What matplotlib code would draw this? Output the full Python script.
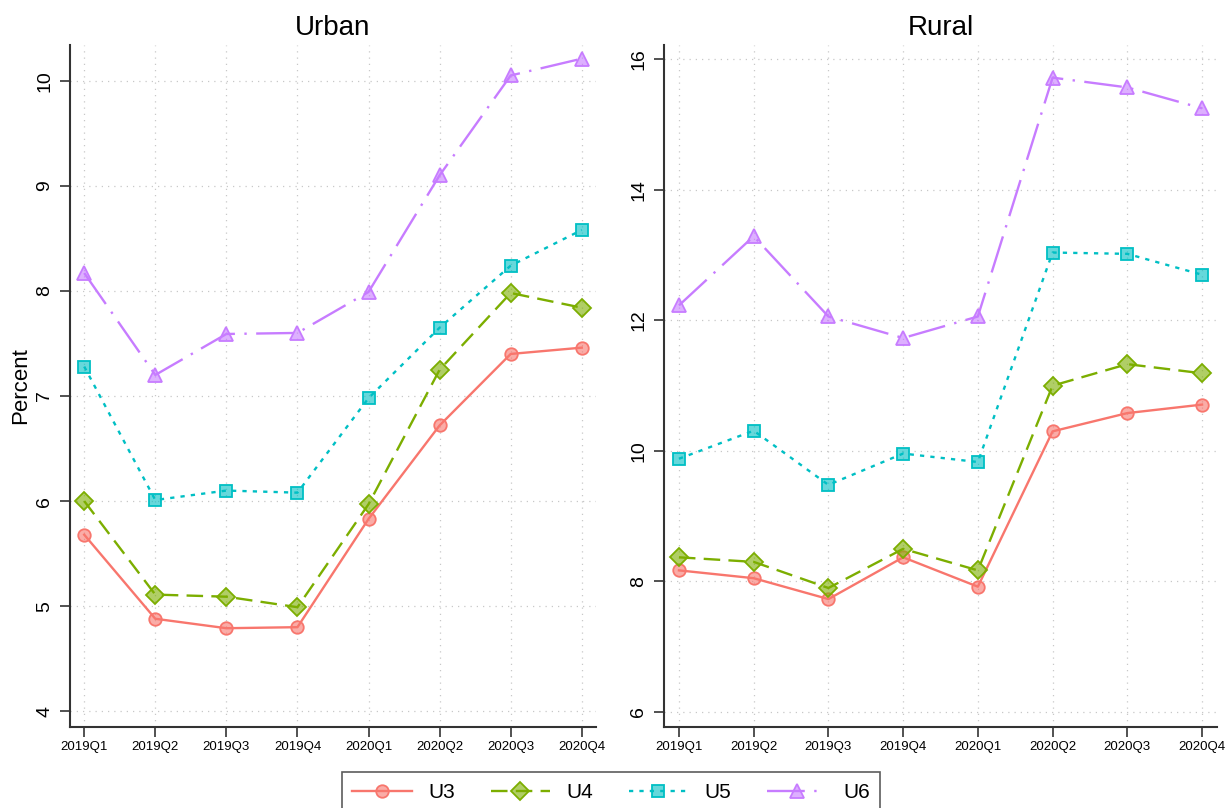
import matplotlib
matplotlib.use("Agg")
import matplotlib.pyplot as plt
from matplotlib.lines import Line2D

plt.rcParams['font.family'] = ['Liberation Sans', 'DejaVu Sans']

quarters = ["2019Q1", "2019Q2", "2019Q3", "2019Q4", "2020Q1", "2020Q2", "2020Q3", "2020Q4"]
series = ["U3", "U4", "U5", "U6"]

urban_u3 = [5.68, 4.88, 4.79, 4.80, 5.83, 6.72, 7.40, 7.46]
urban_u4 = [6.00, 5.11, 5.09, 4.99, 5.97, 7.25, 7.98, 7.84]
urban_u5 = [7.28, 6.01, 6.10, 6.08, 6.98, 7.65, 8.24, 8.58]
urban_u6 = [8.17, 7.20, 7.59, 7.60, 7.99, 9.10, 10.05, 10.21]

rural_u3 = [8.17, 8.05, 7.73, 8.37, 7.92, 10.30, 10.58, 10.71]
rural_u4 = [8.37, 8.30, 7.90, 8.50, 8.17, 11.00, 11.33, 11.19]
rural_u5 = [9.88, 10.31, 9.48, 9.96, 9.83, 13.04, 13.02, 12.70]
rural_u6 = [12.23, 13.29, 12.06, 11.73, 12.06, 15.72, 15.57, 15.25]

urban_ticks = [4, 5, 6, 7, 8, 9, 10]
rural_ticks = [6, 8, 10, 12, 14, 16]

colors = ["#F8766D", "#7CAE00", "#00BFC4", "#C77CFF"]
markers = ["o", "D", "s", "^"]
msizes = [9, 9, 8.5, 10]
dashes = [None, (7, 3.5), (1.8, 2.6), (16, 4, 1, 4)]

fig = plt.figure(figsize=(12.29, 8.08), dpi=100)
W, H = 1229, 808


def panel(rect, title, data, ylim, yticks, ylabel=None):
    x0, x1, ytop, ybot = rect
    ax = fig.add_axes([x0 / W, 1 - ybot / H, (x1 - x0) / W, (ybot - ytop) / H])
    xs = list(range(len(quarters)))
    for vals, c, m, ms, d in zip(data, colors, markers, msizes, dashes):
        ln, = ax.plot(xs, vals, color=c, lw=1.7, marker=m, markersize=ms,
                      markerfacecolor=matplotlib.colors.to_rgba(c, 0.6),
                      markeredgecolor=c, markeredgewidth=1.3, zorder=3)
        if d is not None:
            ln.set_dashes(d)
    ax.set_xlim(-0.2, 7.2)
    ax.set_ylim(*ylim)
    ax.set_xticks(xs)
    ax.set_xticklabels(quarters, fontsize=9.5)
    ax.set_yticks(yticks)
    ax.set_yticklabels([str(t) for t in yticks], fontsize=14, rotation=90, va="center")
    ax.tick_params(axis="both", direction="out", length=7, width=1.2, color="#333333")
    ax.tick_params(axis="x", pad=3)
    ax.tick_params(axis="y", pad=5)
    for s in ["top", "right"]:
        ax.spines[s].set_visible(False)
    for s in ["left", "bottom"]:
        ax.spines[s].set_linewidth(1.5)
        ax.spines[s].set_color("#333333")
    ax.grid(True, linestyle=(0, (1, 4)), color="#c8c8c8", linewidth=0.9, zorder=0)
    ax.set_title(title, fontsize=20, pad=7)
    if ylabel:
        ax.set_ylabel(ylabel, fontsize=16, labelpad=4)
    return ax


panel((70, 596, 45, 727), "Urban", [urban_u3, urban_u4, urban_u5, urban_u6],
      (3.85, 10.34), urban_ticks, ylabel="Percent")
panel((664, 1217, 45, 727), "Rural", [rural_u3, rural_u4, rural_u5, rural_u6],
      (5.77, 16.22), rural_ticks)

handles = []
for c, m, ms, d, name in zip(colors, markers, msizes, dashes, series):
    h = Line2D([], [], color=c, lw=1.7, marker=m, markersize=ms,
               markerfacecolor=matplotlib.colors.to_rgba(c, 0.6),
               markeredgecolor=c, markeredgewidth=1.3, label=name)
    if d is not None:
        h.set_dashes(d)
    handles.append(h)

leg = fig.legend(handles=handles, loc="lower center", ncol=4,
                 bbox_to_anchor=(611 / W, -0.013), fontsize=15, frameon=True,
                 fancybox=False, edgecolor="#333333", handlelength=2.85,
                 columnspacing=1.7, handletextpad=0.8, borderpad=0.5,
                 borderaxespad=0.3)
leg.get_frame().set_linewidth(1.2)

fig.savefig("out.png", dpi=100)
